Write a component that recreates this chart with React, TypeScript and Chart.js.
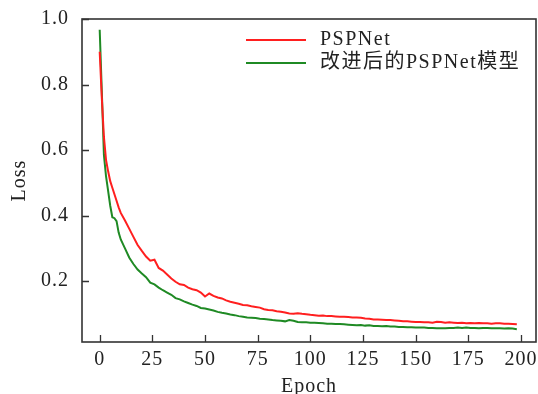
import React, { useEffect, useRef } from 'react';
import { Chart, registerables } from 'chart.js';

Chart.register(...registerables);

const epochs = [
  0, 1, 2, 3, 4, 5, 6, 7, 8, 9, 10,
  12, 14, 16, 18, 20, 22, 24, 26, 28, 30,
  32, 34, 36, 38, 40, 42, 44, 46, 48, 50,
  52, 54, 56, 58, 60, 62, 64, 66, 68, 70,
  72, 74, 76, 78, 80, 82, 84, 86, 88, 90,
  92, 94, 96, 98, 100, 102, 104, 106, 108, 110,
  112, 114, 116, 118, 120, 122, 124, 126, 128, 130,
  132, 134, 136, 138, 140, 142, 144, 146, 148, 150,
  152, 154, 156, 158, 160, 162, 164, 166, 168, 170,
  172, 174, 176, 178, 180, 182, 184, 186, 188, 190,
  192, 194, 196, 198,
];

const pspnetLoss = [
  0.90, 0.76, 0.64, 0.57, 0.535, 0.505, 0.485, 0.465, 0.445, 0.425, 0.408,
  0.385, 0.36, 0.335, 0.31, 0.292, 0.275, 0.262, 0.265, 0.24, 0.232,
  0.22, 0.208, 0.198, 0.19, 0.188, 0.18, 0.175, 0.172, 0.165, 0.153,
  0.162, 0.155, 0.15, 0.147, 0.141, 0.137, 0.134, 0.131, 0.127, 0.126,
  0.123, 0.121, 0.119, 0.114, 0.112, 0.111, 0.108, 0.106, 0.104, 0.101,
  0.100, 0.102, 0.100, 0.099, 0.097, 0.096, 0.094, 0.095, 0.093, 0.093,
  0.092, 0.091, 0.091, 0.090, 0.089, 0.089, 0.088, 0.086, 0.085, 0.083,
  0.083, 0.082, 0.081, 0.081, 0.080, 0.079, 0.077, 0.077, 0.076, 0.075,
  0.075, 0.074, 0.074, 0.073, 0.076, 0.075, 0.073, 0.074, 0.073, 0.072,
  0.073, 0.071, 0.072, 0.071, 0.072, 0.071, 0.071, 0.070, 0.071, 0.071,
  0.070, 0.070, 0.069, 0.068,
];

const improvedLoss = [
  0.967, 0.78, 0.585, 0.52, 0.475, 0.43, 0.395, 0.392, 0.383, 0.348, 0.327,
  0.30, 0.272, 0.252, 0.235, 0.223, 0.212, 0.195, 0.19, 0.18, 0.172,
  0.165, 0.158, 0.148, 0.144, 0.138, 0.133, 0.128, 0.124, 0.118, 0.116,
  0.113, 0.110, 0.106, 0.103, 0.101, 0.098, 0.096, 0.093, 0.091, 0.089,
  0.088, 0.087, 0.085, 0.084, 0.083, 0.081, 0.080, 0.079, 0.077, 0.081,
  0.079, 0.075, 0.074, 0.074, 0.073, 0.073, 0.072, 0.071, 0.070, 0.070,
  0.069, 0.069, 0.068, 0.067, 0.066, 0.065, 0.066, 0.064, 0.065, 0.063,
  0.063, 0.062, 0.063, 0.061, 0.061, 0.060, 0.060, 0.059, 0.059, 0.058,
  0.058, 0.058, 0.057, 0.057, 0.056, 0.056, 0.056, 0.057, 0.057, 0.058,
  0.057, 0.058, 0.057, 0.057, 0.056, 0.057, 0.057, 0.056, 0.056, 0.056,
  0.055, 0.056, 0.055, 0.053,
];

const seriesNames = ['PSPNet', '改进后的PSPNet模型'];
const seriesColors = ['#ff1f1f', '#1f8a24'];

const SERIF = "'Liberation Serif', 'Times New Roman', 'Noto Sans CJK SC', serif";

const framePlugin = {
  id: 'frameAndLegend',
  beforeDraw(chart: any) {
    chart.ctx.letterSpacing = '1px';
  },
  afterDraw(chart: any) {
    const { ctx, chartArea: a, scales } = chart;
    ctx.save();
    ctx.strokeStyle = '#333';
    ctx.lineWidth = 1.6;
    ctx.strokeRect(a.left, a.top, a.right - a.left, a.bottom - a.top);
    ctx.beginPath();
    scales.x.ticks.forEach((t: any) => {
      const px = Math.round(scales.x.getPixelForValue(t.value)) + 0.5;
      ctx.moveTo(px, a.bottom);
      ctx.lineTo(px, a.bottom - 7);
    });
    scales.y.ticks.forEach((t: any) => {
      const py = Math.round(scales.y.getPixelForValue(t.value)) + 0.5;
      ctx.moveTo(a.left, py);
      ctx.lineTo(a.left + 7, py);
    });
    ctx.lineWidth = 1.3;
    ctx.stroke();

    // legend
    const rows = [40, 63];
    chart.data.datasets.forEach((ds: any, i: number) => {
      const y = rows[i];
      ctx.strokeStyle = ds.borderColor;
      ctx.lineWidth = 2;
      ctx.beginPath();
      ctx.moveTo(246, y);
      ctx.lineTo(306, y);
      ctx.stroke();
      ctx.fillStyle = '#222';
      ctx.font = `20px ${SERIF}`;
      ctx.letterSpacing = '1.5px';
      ctx.textBaseline = 'middle';
      ctx.textAlign = 'left';
      ctx.fillText(ds.label, 320, y);
    });
    ctx.restore();
  },
};

export default function App() {
  const ref = useRef<HTMLCanvasElement>(null);
  useEffect(() => {
    document.body.style.margin = '0';
    const canvas = ref.current!;
    const chart = new Chart(canvas, {
      type: 'line',
      data: {
        datasets: [pspnetLoss, improvedLoss].map((vals, i) => ({
          label: seriesNames[i],
          data: epochs.map((e, k) => ({ x: e, y: vals[k] })),
          borderColor: seriesColors[i],
          backgroundColor: seriesColors[i],
          borderWidth: 2,
          pointRadius: 0,
          tension: 0,
          fill: false,
        })),
      },
      options: {
        responsive: false,
        animation: false,
        layout: { padding: { left: 0, right: 2, top: 19, bottom: 0 } },
        plugins: {
          legend: { display: false },
          tooltip: { enabled: false },
        },
        scales: {
          x: {
            type: 'linear',
            min: -8.4,
            max: 207.1,
            grid: { display: false },
            border: { display: false },
            ticks: {
              stepSize: 25,
              includeBounds: false,
              padding: -2,
              color: '#222',
              font: { family: SERIF, size: 20 },
              maxRotation: 0,
            },
            title: {
              display: true,
              text: 'Epoch',
              color: '#222',
              font: { family: SERIF, size: 20, lineHeight: 1 },
              padding: { top: 0, bottom: -3 },
            },
            afterFit: (s: any) => {
              s.height = 52;
            },
          },
          y: {
            type: 'linear',
            min: 0.014,
            max: 1.0,
            grid: { display: false },
            border: { display: false },
            ticks: {
              stepSize: 0.2,
              includeBounds: false,
              padding: 5,
              color: '#222',
              font: { family: SERIF, size: 20 },
              callback: (v: any) => Number(v).toFixed(1),
            },
            title: {
              display: true,
              text: 'Loss',
              color: '#222',
              font: { family: SERIF, size: 20 },
              padding: { top: 8, bottom: 0 },
            },
            afterFit: (s: any) => {
              s.width = 82;
            },
          },
        },
      },
      plugins: [framePlugin],
    });
    return () => chart.destroy();
  }, []);
  return <canvas ref={ref} width={538} height={394} style={{ display: 'block' }} />;
}
